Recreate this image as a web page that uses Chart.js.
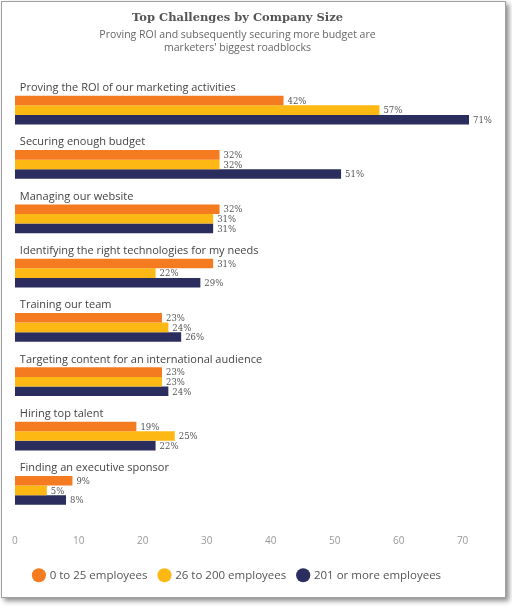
<!DOCTYPE html>
<html><head><meta charset="utf-8">
<script src="https://cdn.jsdelivr.net/npm/chart.js@4"></script>
<style>
body{margin:0;background:#fff;}
#frame{position:absolute;left:1px;top:1px;width:503px;height:595px;border:1px solid #a0a0a0;box-shadow:3px 3px 5px rgba(0,0,0,0.45);background:#fff;}
#wrap{position:absolute;left:0;top:0;width:503px;height:595px;}
</style></head><body>
<div id="frame"><div id="wrap"><canvas id="c"></canvas></div></div>
<script>
const categories=["Proving the ROI of our marketing activities","Securing enough budget","Managing our website","Identifying the right technologies for my needs","Training our team","Targeting content for an international audience","Hiring top talent","Finding an executive sponsor"];
const seriesNames=["0 to 25 employees","26 to 200 employees","201 or more employees"];
const small=[42,32,32,31,23,23,19,9];
const mid=[57,32,31,22,24,23,25,5];
const large=[71,51,31,29,26,24,22,8];
const colors=["#F47B20","#FDB813","#2B2D5E"];
const xTicks=[0,10,20,30,40,50,60,70];

const labelPlugin={id:'lbl',afterDatasetsDraw(chart){
  const ctx=chart.ctx;const y=chart.scales.y;
  ctx.save();
  ctx.font='11px "Open Sans"';ctx.fillStyle='#444';ctx.textBaseline='alphabetic';ctx.textAlign='left';
  categories.forEach((c,i)=>{ctx.fillText(c,chart.chartArea.left+5,y.getPixelForValue(i)-19);});
  ctx.font='8.5px "DejaVu Serif"';ctx.fillStyle='#555';ctx.textBaseline='middle';
  chart.data.datasets.forEach((ds,di)=>{chart.getDatasetMeta(di).data.forEach((b,i)=>{ctx.fillText(ds.data[i]+'%',b.x+4,b.y+1);});});
  ctx.restore();
}};
new Chart(document.getElementById('c'),{type:'bar',
 data:{labels:categories,datasets:[small,mid,large].map((d,i)=>({label:seriesNames[i],data:d,backgroundColor:colors[i],borderWidth:0}))},
 options:{indexAxis:'y',responsive:true,maintainAspectRatio:false,animation:false,
  categoryPercentage:0.53,barPercentage:1,
  layout:{padding:{left:4,right:36,top:0,bottom:6}},
  scales:{x:{min:0,max:71,afterBuildTicks(a){a.ticks=xTicks.map(v=>({value:v}));},grid:{display:false},border:{display:false},ticks:{color:'#999',font:{size:10,family:'Open Sans'},padding:10}},
          y:{grid:{display:false},border:{display:false},ticks:{display:false}}},
  plugins:{
   title:{display:true,text:'Top Challenges by Company Size',color:'#555',font:{size:11.5,weight:'bold',family:'DejaVu Serif'},padding:{top:9,bottom:4}},
   subtitle:{display:true,text:['Proving ROI and subsequently securing more budget are',"marketers' biggest roadblocks"],color:'#666',font:{size:10.5,family:'Open Sans'},padding:{bottom:29}},
   legend:{position:'bottom',labels:{usePointStyle:true,pointStyle:'circle',boxWidth:10,boxHeight:10,padding:12,color:'#555',font:{size:11.5,family:'Open Sans'}}},
   tooltip:{enabled:false}}},
 plugins:[labelPlugin]});
</script></body></html>
